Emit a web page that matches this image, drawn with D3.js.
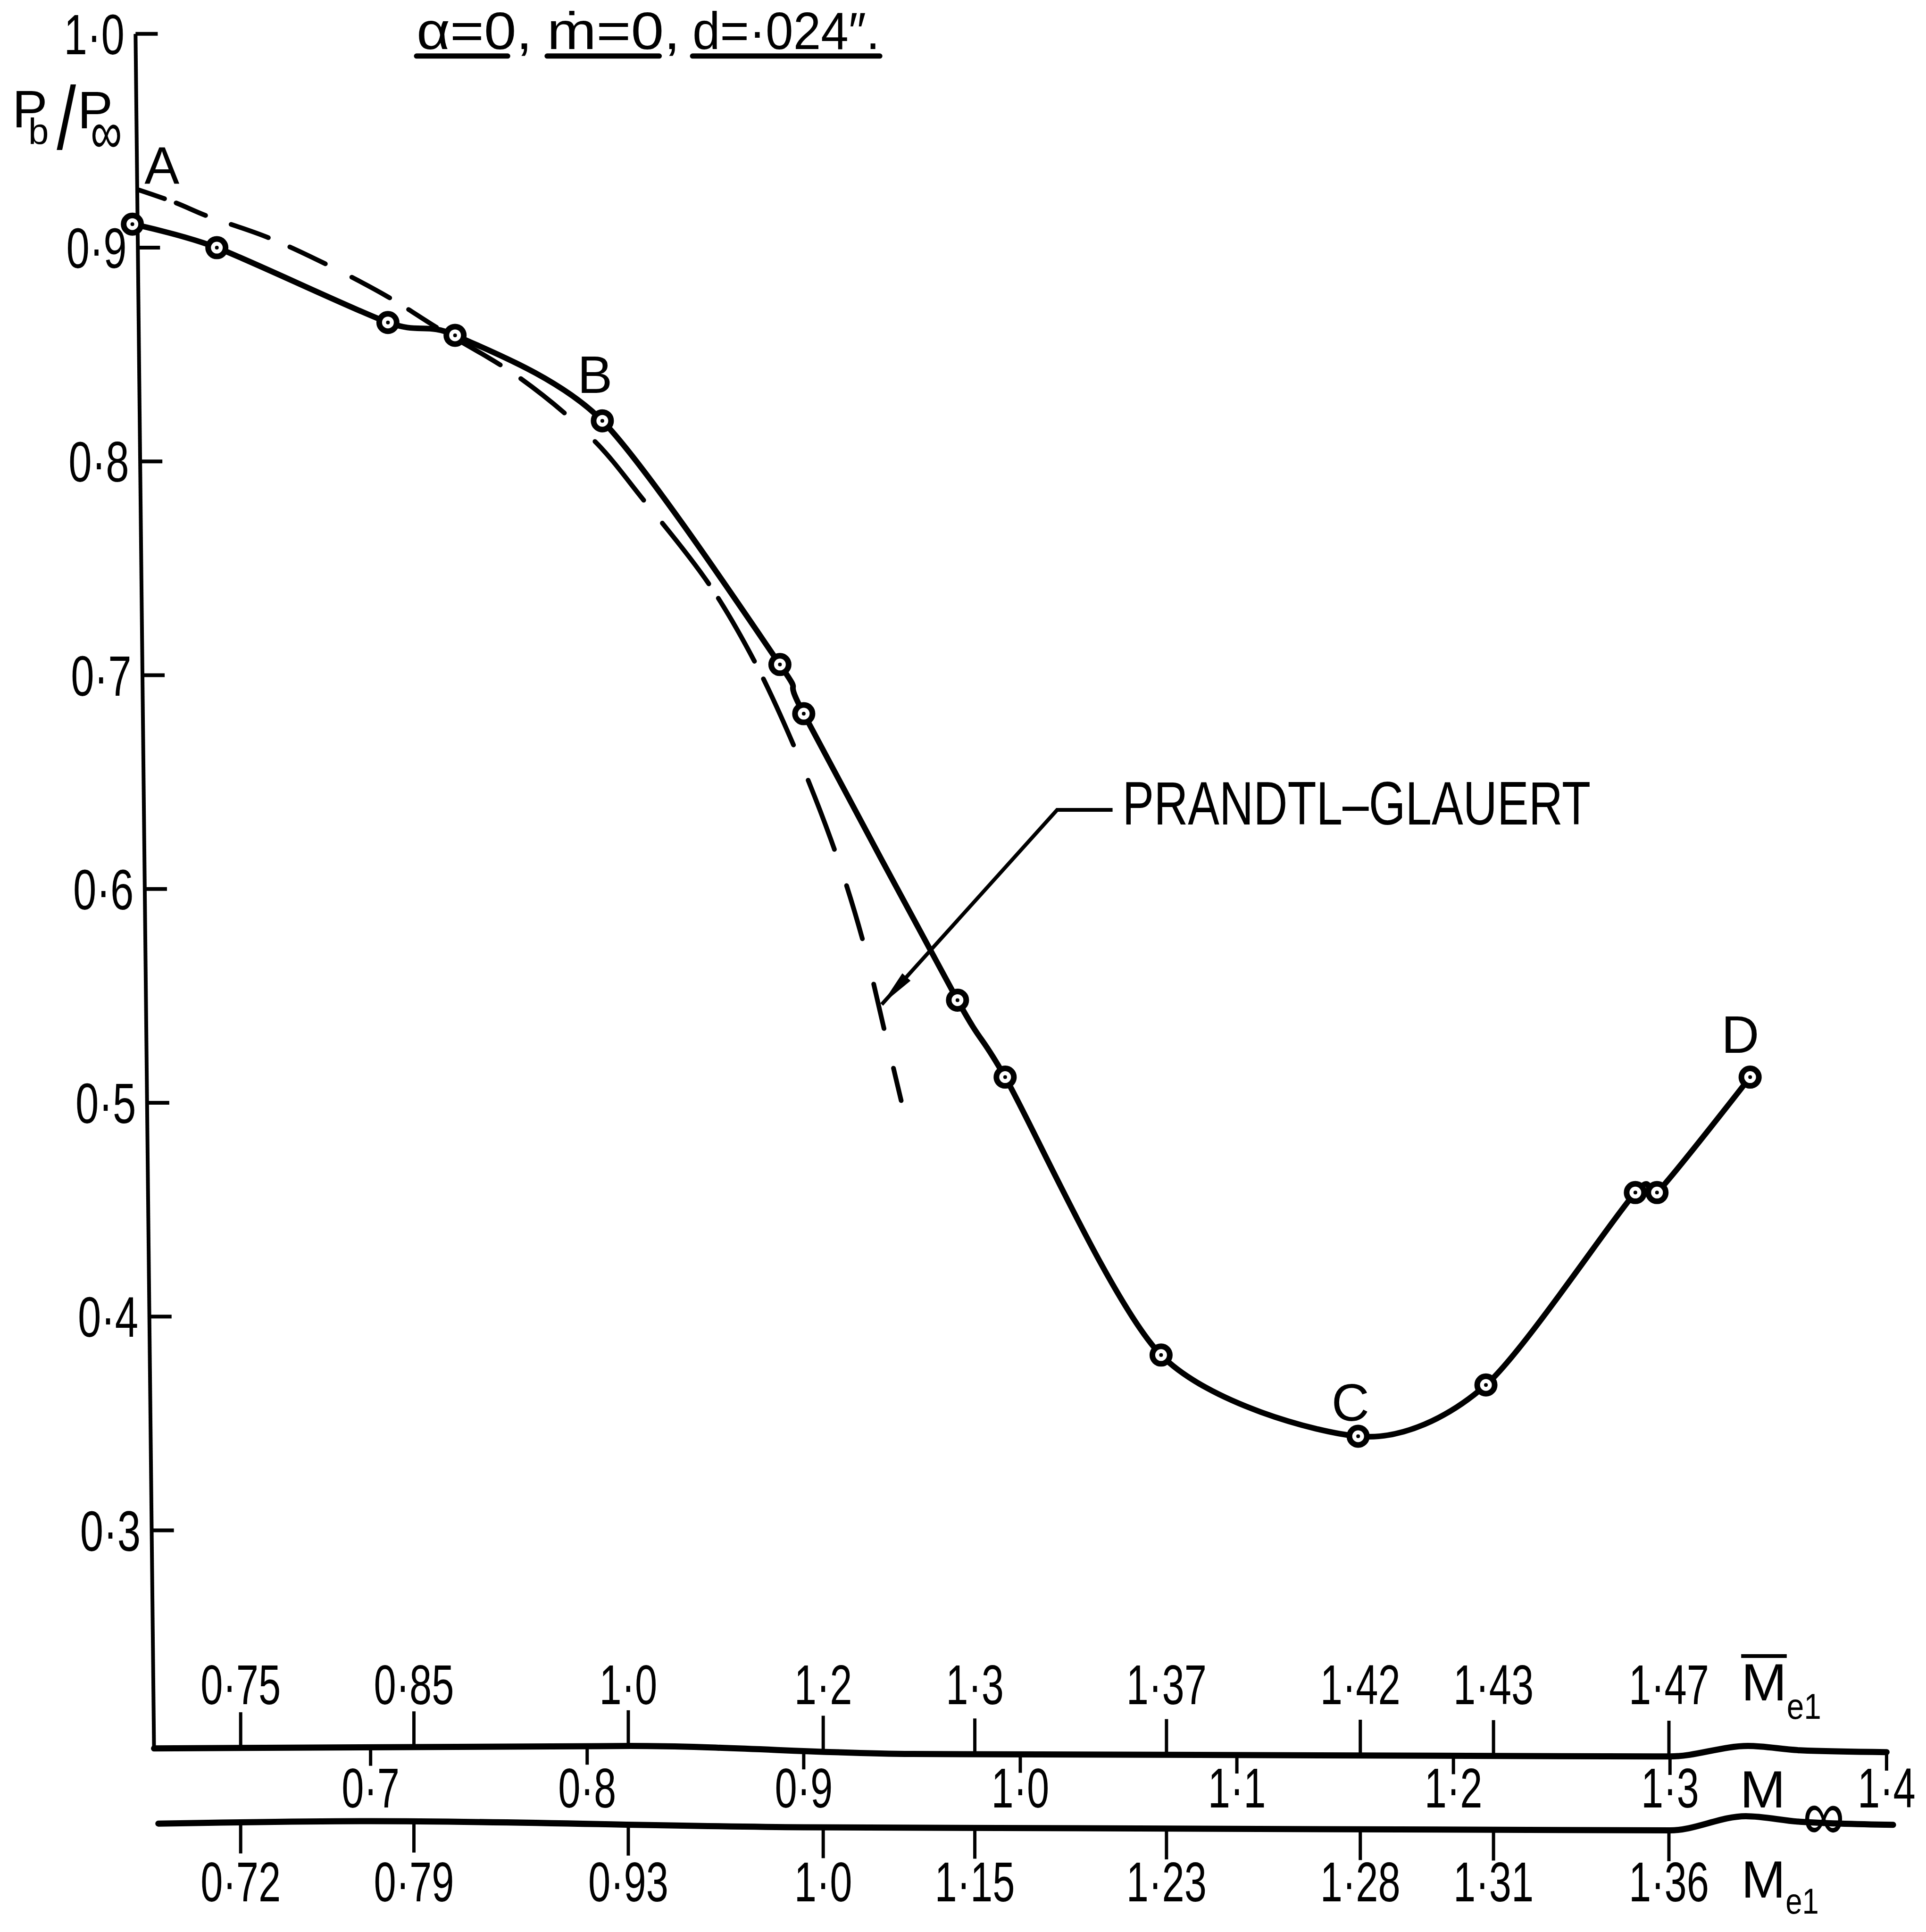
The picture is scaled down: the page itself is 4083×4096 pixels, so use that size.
<!DOCTYPE html>
<html>
<head>
<meta charset="utf-8">
<script src="https://cdn.jsdelivr.net/npm/d3@7"></script>
<style>
  html, body { margin: 0; padding: 0; background: #fff; }
  svg text { font-family: "Liberation Sans", Arial, sans-serif; fill: #000; }
</style>
</head>
<body>
<div id="chart"></div>
<script>
// measured base pressure ratio against free-stream Mach number
var machInf    = [0.590, 0.629, 0.708, 0.739, 0.807, 0.889, 0.900, 0.971, 0.993, 1.065, 1.156, 1.215, 1.284, 1.294, 1.337];
var pRatio     = [0.911, 0.900, 0.865, 0.859, 0.819, 0.705, 0.682, 0.548, 0.512, 0.382, 0.344, 0.368, 0.458, 0.458, 0.512];
var pointNames = ["A", "", "", "", "B", "", "", "", "", "", "C", "", "", "", "D"];

// Prandtl-Glauert estimate (dashed)
var pgMach  = [0.593, 0.610, 0.624, 0.652, 0.678, 0.708, 0.730, 0.769, 0.803, 0.826, 0.856, 0.877, 0.895, 0.914, 0.927, 0.937, 0.945];
var pgRatio = [0.927, 0.921, 0.915, 0.905, 0.893, 0.877, 0.863, 0.839, 0.810, 0.782, 0.743, 0.707, 0.668, 0.619, 0.577, 0.535, 0.501];
var pgName  = "PRANDTL\u2013GLAUERT";
var pgArrowTip = [0.936, 0.546];   // [M, p] where the leader points
var pgElbow    = [1.017, 0.637];

// axes
var yTicks       = [1.0, 0.9, 0.8, 0.7, 0.6, 0.5, 0.4, 0.3];
var yTickLabels  = ["1·0", "0·9", "0·8", "0·7", "0·6", "0·5", "0·4", "0·3"];
var infTicks     = [0.7, 0.8, 0.9, 1.0, 1.1, 1.2, 1.3, 1.4];
var infLabels    = ["0·7", "0·8", "0·9", "1·0", "1·1", "1·2", "1·3", "1·4"];
var stationMach  = [0.640, 0.720, 0.819, 0.909, 0.979, 1.0675, 1.157, 1.2185, 1.2995];
var meBarLabels  = ["0·75", "0·85", "1·0", "1·2", "1·3", "1·37", "1·42", "1·43", "1·47"];
var me1Labels    = ["0·72", "0·79", "0·93", "1·0", "1·15", "1·23", "1·28", "1·31", "1·36"];

var W = 4083, H = 4096;
var S = W / 1563;                 // layout below measured on a 1563px copy
function px(v) { return v * S; }

var svg = d3.select("#chart").append("svg")
    .attr("width", W).attr("height", H)
    .attr("viewBox", "0 0 " + W + " " + H);
svg.append("rect").attr("width", W).attr("height", H).attr("fill", "#fff");

var x = d3.scaleLinear().domain([0.6, 1.4]).range([px(125), px(1531)]);
var y = d3.scaleLinear().domain([0.2, 1.0]).range([px(1415.5), px(27.5)]);

// the drawn y axis leans a little to the left at the top
function axisX(v) { return x(0.6) - (v - 0.2) / 0.8 * px(15); }

function squeeze(sel, k) {
    sel.each(function() {
        var w = this.getComputedTextLength();
        this.setAttribute("textLength", w * k);
        this.setAttribute("lengthAdjust", "spacingAndGlyphs");
    });
}

var ink = "#000";

// ---- y axis
svg.append("line")
    .attr("x1", axisX(1.0)).attr("y1", y(1.0))
    .attr("x2", axisX(0.2)).attr("y2", y(0.2) + px(4))
    .attr("stroke", ink).attr("stroke-width", 8);

svg.selectAll(".ytick").data(yTicks).enter().append("line")
    .attr("x1", function(d) { return axisX(d); })
    .attr("x2", function(d) { return axisX(d) + px(18); })
    .attr("y1", function(d) { return y(d); })
    .attr("y2", function(d) { return y(d); })
    .attr("stroke", ink).attr("stroke-width", 8);

var yl = svg.selectAll(".ylab").data(yTicks).enter().append("text")
    .attr("x", function(d) { return axisX(d) - px(9); })
    .attr("y", function(d) { return y(d) + px(16.5); })
    .attr("text-anchor", "end")
    .attr("font-size", 120)
    .text(function(d, i) { return yTickLabels[i]; });
squeeze(yl, 0.74);

// y axis title  Pb/P∞
var yt = svg.append("g");
yt.append("text").attr("x", px(10)).attr("y", px(103.5)).attr("font-size", 112).text("P");
yt.append("text").attr("x", px(23)).attr("y", px(117)).attr("font-size", 78).text("b");
yt.append("text").attr("font-size", 140)
    .attr("transform", "translate(" + px(46) + "," + px(121) + ") scale(1.05,1.35)")
    .text("/");
yt.append("text").attr("x", px(63)).attr("y", px(104.3)).attr("font-size", 112).text("P");
yt.append("text").attr("x", px(73.5)).attr("y", px(124)).attr("font-size", 125)
    .attr("textLength", px(25.5)).attr("lengthAdjust", "spacingAndGlyphs").text("\u221E");

// ---- the two bottom scale lines
var upperPts = [[0.6, 1419], [0.82, 1417], [0.95, 1423.5], [1.3, 1425.5], [1.336, 1417], [1.36, 1420.5], [1.4, 1422]];
var lowerPts = [[0.602, 1480], [0.7, 1478], [0.9, 1483], [1.3, 1485.5], [1.335, 1474], [1.36, 1478.5], [1.403, 1481]];
var upperY = d3.scaleLinear().domain(upperPts.map(function(p) { return p[0]; })).range(upperPts.map(function(p) { return px(p[1]); }));
var lowerY = d3.scaleLinear().domain(lowerPts.map(function(p) { return p[0]; })).range(lowerPts.map(function(p) { return px(p[1]); }));

var scaleLine = d3.line()
    .x(function(p) { return x(p[0]); })
    .y(function(p) { return px(p[1]); })
    .curve(d3.curveMonotoneX);

svg.append("path").attr("d", scaleLine(upperPts))
    .attr("fill", "none").attr("stroke", ink).attr("stroke-width", 13).attr("stroke-linecap", "round");
svg.append("path").attr("d", scaleLine(lowerPts))
    .attr("fill", "none").attr("stroke", ink).attr("stroke-width", 13).attr("stroke-linecap", "round");

// M̄e1 ticks (up from upper line)
svg.selectAll(".mbt").data(stationMach).enter().append("line")
    .attr("x1", function(d) { return x(d); }).attr("x2", function(d) { return x(d); })
    .attr("y1", function(d) { return upperY(d); })
    .attr("y2", function(d) { return upperY(d) - px(29); })
    .attr("stroke", ink).attr("stroke-width", 7);
var mbl = svg.selectAll(".mbl").data(stationMach).enter().append("text")
    .attr("x", function(d) { return x(d); })
    .attr("y", px(1383))
    .attr("text-anchor", "middle")
    .attr("font-size", 118)
    .text(function(d, i) { return meBarLabels[i]; });
squeeze(mbl, 0.72);

// M∞ ticks (down from upper line)
svg.selectAll(".mit").data(infTicks).enter().append("line")
    .attr("x1", function(d) { return x(d); }).attr("x2", function(d) { return x(d); })
    .attr("y1", function(d) { return upperY(d); })
    .attr("y2", function(d) { return upperY(d) + px(15); })
    .attr("stroke", ink).attr("stroke-width", 7);
var mil = svg.selectAll(".mil").data(infTicks).enter().append("text")
    .attr("x", function(d) { return x(d); })
    .attr("y", px(1467))
    .attr("text-anchor", "middle")
    .attr("font-size", 118)
    .text(function(d, i) { return infLabels[i]; });
squeeze(mil, 0.72);

// Me1 ticks (down from lower line)
svg.selectAll(".met").data(stationMach).enter().append("line")
    .attr("x1", function(d) { return x(d); }).attr("x2", function(d) { return x(d); })
    .attr("y1", function(d) { return lowerY(d); })
    .attr("y2", function(d) { return lowerY(d) + px(25); })
    .attr("stroke", ink).attr("stroke-width", 7);
var mel = svg.selectAll(".mel").data(stationMach).enter().append("text")
    .attr("x", function(d) { return x(d); })
    .attr("y", px(1543))
    .attr("text-anchor", "middle")
    .attr("font-size", 118)
    .text(function(d, i) { return me1Labels[i]; });
squeeze(mel, 0.72);

// scale names
var names = svg.append("g");
names.append("text").attr("x", px(1413)).attr("y", px(1380)).attr("font-size", 112)
    .attr("textLength", px(37)).attr("lengthAdjust", "spacingAndGlyphs").text("M");
names.append("line").attr("x1", px(1413)).attr("x2", px(1450))
    .attr("y1", px(1344)).attr("y2", px(1344)).attr("stroke", ink).attr("stroke-width", 8);
names.append("text").attr("x", px(1450)).attr("y", px(1395)).attr("font-size", 76)
    .attr("textLength", px(28)).attr("lengthAdjust", "spacingAndGlyphs").text("e1");

names.append("text").attr("x", px(1412)).attr("y", px(1467)).attr("font-size", 112)
    .attr("textLength", px(37)).attr("lengthAdjust", "spacingAndGlyphs").text("M");
names.append("text").attr("x", px(1463)).attr("y", px(1493)).attr("font-size", 150)
    .attr("textLength", px(34)).attr("lengthAdjust", "spacingAndGlyphs").text("\u221E");

names.append("text").attr("x", px(1413)).attr("y", px(1540)).attr("font-size", 112)
    .attr("textLength", px(36)).attr("lengthAdjust", "spacingAndGlyphs").text("M");
names.append("text").attr("x", px(1449)).attr("y", px(1553)).attr("font-size", 76)
    .attr("textLength", px(27)).attr("lengthAdjust", "spacingAndGlyphs").text("e1");

// ---- title
var titleParts = [
    { t: "\u03B1=0,", x0: 338, w: 94, u0: 338, u1: 412 },
    { t: "\u1E41=0,", x0: 444, w: 108, u0: 444, u1: 535 },
    { t: "d=·024\u2033.", x0: 562, w: 152, u0: 562, u1: 714 }
];
var tg = svg.append("g");
titleParts.forEach(function(p) {
    tg.append("text").attr("x", px(p.x0)).attr("y", px(40)).attr("font-size", 112)
        .attr("textLength", px(p.w)).attr("lengthAdjust", "spacingAndGlyphs").text(p.t);
    tg.append("line").attr("x1", px(p.u0)).attr("x2", px(p.u1))
        .attr("y1", px(45.5)).attr("y2", px(45.5))
        .attr("stroke", ink).attr("stroke-width", 11).attr("stroke-linecap", "round");
});

// ---- Prandtl-Glauert dashed curve
var pgData = pgMach.map(function(m, i) { return [m, pgRatio[i]]; });
var dashLine = d3.line()
    .x(function(d) { return x(d[0]); })
    .y(function(d) { return y(d[1]); })
    .curve(d3.curveCatmullRom.alpha(0.5));
var dashes = [22, 10, 26, 22, 32, 19, 32, 24, 35, 18, 27, 20, 40, 20, 45, 34, 62, 24, 62, 14, 59, 16, 59, 31, 60, 31, 45, 38, 37, 33, 27, 300];
svg.append("path").attr("d", dashLine(pgData))
    .attr("fill", "none").attr("stroke", ink).attr("stroke-width", 10)
    .attr("stroke-linecap", "round")
    .attr("stroke-dasharray", dashes.map(function(d) { return d * S; }).join(","));

// ---- measured curve
var data = machInf.map(function(m, i) { return [m, pRatio[i]]; });
var solidLine = d3.line()
    .x(function(d) { return x(d[0]); })
    .y(function(d) { return y(d[1]); })
    .curve(d3.curveCardinal.tension(0.2));
svg.append("path").attr("d", solidLine(data))
    .attr("fill", "none").attr("stroke", ink).attr("stroke-width", 12)
    .attr("stroke-linejoin", "round");

// leader and label for the dashed curve
var tipX = x(pgArrowTip[0]), tipY = y(pgArrowTip[1]);
var elbX = x(pgElbow[0]), elbY = y(pgElbow[1]);
svg.append("path")
    .attr("d", "M" + (elbX + px(45)) + "," + elbY + "H" + elbX + "L" + tipX + "," + tipY)
    .attr("fill", "none").attr("stroke", ink).attr("stroke-width", 8);
var ang = Math.atan2(elbY - tipY, elbX - tipX);
var aLen = px(30), aW = px(4.5);
var bx = tipX + Math.cos(ang) * aLen, by = tipY + Math.sin(ang) * aLen;
svg.append("path")
    .attr("d", "M" + tipX + "," + tipY +
        "L" + (bx - Math.sin(ang) * aW) + "," + (by + Math.cos(ang) * aW) +
        "L" + (bx + Math.sin(ang) * aW) + "," + (by - Math.cos(ang) * aW) + "Z")
    .attr("fill", ink);
svg.append("text").attr("x", elbX + px(53)).attr("y", elbY + px(12)).attr("font-size", 129)
    .attr("textLength", px(380)).attr("lengthAdjust", "spacingAndGlyphs").text(pgName);

// ---- point markers
var pts = svg.selectAll(".pt").data(data).enter().append("g")
    .attr("transform", function(d) { return "translate(" + x(d[0]) + "," + y(d[1]) + ")"; });
pts.append("circle").attr("r", 18.5).attr("fill", "#fff").attr("stroke", ink).attr("stroke-width", 12);
pts.append("circle").attr("r", 4).attr("fill", ink);

// point names
var nameOffset = { A: [24, -33], B: [-6, -22.6], C: [-6.3, -12.5], D: [-8, -19.6] };
svg.selectAll(".pn").data(data.filter(function(d, i) { return pointNames[i]; })).enter().append("text")
    .attr("x", function(d) { var n = pointNames[data.indexOf(d)]; return x(d[0]) + px(nameOffset[n][0]); })
    .attr("y", function(d) { var n = pointNames[data.indexOf(d)]; return y(d[1]) + px(nameOffset[n][1]); })
    .attr("text-anchor", "middle")
    .attr("font-size", 111)
    .text(function(d) { return pointNames[data.indexOf(d)]; });
</script>
</body>
</html>
